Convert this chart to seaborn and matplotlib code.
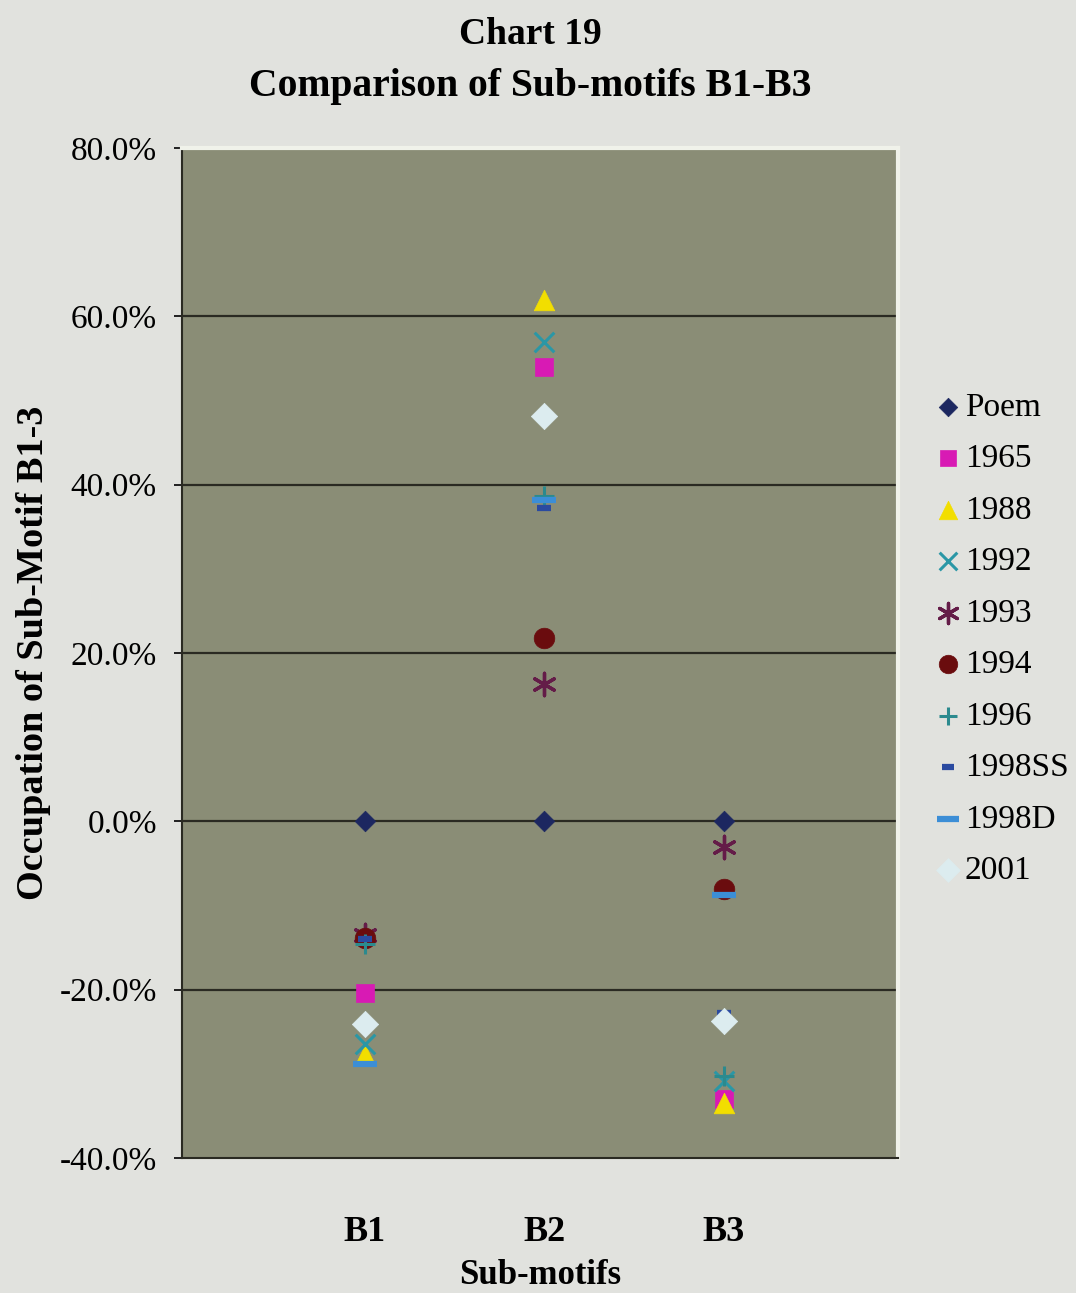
import matplotlib
matplotlib.use("Agg")
import matplotlib.pyplot as plt
import seaborn as sns
import pandas as pd
from matplotlib.ticker import FuncFormatter

# ---- data (percent) ----
categories = ["B1", "B2", "B3"]
series_names = ["Poem", "1965", "1988", "1992", "1993", "1994", "1996", "1998SS", "1998D", "2001"]
poem = [0.0, 0.0, 0.0]
s1965 = [-20.4, 54.0, -33.0]
s1988 = [-27.8, 62.0, -33.5]
s1992 = [-26.5, 57.0, -30.8]
s1993 = [-13.5, 16.3, -3.0]
s1994 = [-13.8, 21.8, -8.0]
s1996 = [-14.6, 38.6, -30.3]
s1998SS = [-14.0, 37.2, -22.8]
s1998D = [-28.8, 38.2, -8.7]
s2001 = [-24.1, 48.2, -23.7]
values = [poem, s1965, s1988, s1992, s1993, s1994, s1996, s1998SS, s1998D, s2001]

# ---- styles ----
styles = {
    "Poem":   dict(marker="D", color="#1c2760", s=110, linewidth=0.5),
    "1965":   dict(marker="s", color="#d81ab4", s=180, linewidth=0.5),
    "1988":   dict(marker="^", color="#f2de00", s=220, linewidth=0.5),
    "1992":   dict(marker="x", color="#2a97a6", s=200, linewidth=2.2),
    "1993":   dict(marker=(6, 2, 0), color="#641c48", s=260, linewidth=2.4),
    "1994":   dict(marker="o", color="#6a0c0e", s=220, linewidth=0.5),
    "1996":   dict(marker="+", color="#2b8a8e", s=220, linewidth=2.2),
    "1998SS": dict(marker="_", color="#2a4aa0", s=90, linewidth=4.5),
    "1998D":  dict(marker="_", color="#3c8ed6", s=300, linewidth=4.5),
    "2001":   dict(marker="D", color="#dcecef", s=180, linewidth=0.5),
}

fig = plt.figure(figsize=(10.76, 12.93), dpi=100)
fig.patch.set_facecolor("#e1e2de")
ax = fig.add_axes([0.169, 0.1044, 0.6656, 0.7811])
ax.set_facecolor("#8a8d76")

for name, vals in zip(series_names, values):
    st = styles[name]
    df = pd.DataFrame({"cat": categories, "val": vals})
    kw = dict(marker=st["marker"], color=st["color"], s=st["s"], linewidth=st["linewidth"], label=name, ax=ax, zorder=3)
    if st["marker"] not in ("x", "+", "_") and not isinstance(st["marker"], tuple):
        kw["edgecolor"] = st["color"]
    sns.scatterplot(data=df, x="cat", y="val", **kw)

ax.set_xlim(-1.02, 2.97)
ax.set_ylim(-40, 80)
ax.set_yticks([-40, -20, 0, 20, 40, 60, 80])
ax.yaxis.set_major_formatter(FuncFormatter(lambda v, p: f"{v:.1f}%"))
for yv in [-20, 0, 20, 40, 60]:
    ax.axhline(yv, color="#2a2a22", lw=1.6, zorder=1)

for sp in ["top", "right"]:
    ax.spines[sp].set_color("#f0f2ea")
    ax.spines[sp].set_linewidth(3)
ax.spines["left"].set_color("#2a2a22")
ax.spines["bottom"].set_color("#2a2a22")
ax.spines["left"].set_linewidth(1.5)
ax.spines["bottom"].set_linewidth(1.5)

serif = ["Liberation Serif", "DejaVu Serif"]
ax.tick_params(axis="y", length=6, width=1.2, labelsize=24, pad=12)
ax.tick_params(axis="x", length=0, labelsize=26, pad=42)
for lab in ax.get_yticklabels():
    lab.set_fontfamily(serif)
for lab in ax.get_xticklabels():
    lab.set_fontfamily(serif)
    lab.set_fontweight("bold")

ax.set_xlabel("Sub-motifs", fontsize=25, fontweight="bold", family=serif, labelpad=7)
ax.set_ylabel("Occupation of Sub-Motif B1-3", fontsize=27.5, fontweight="bold", family=serif, labelpad=6)

fig.text(0.493, 0.973, "Chart 19", ha="center", va="center", fontsize=27, fontweight="bold", family=serif)
fig.text(0.493, 0.933, "Comparison of Sub-motifs B1-B3", ha="center", va="center", fontsize=28.5, fontweight="bold", family=serif)

handles, labels = ax.get_legend_handles_labels()
if ax.get_legend():
    ax.get_legend().remove()
leg = fig.legend(handles, labels, loc="upper left", bbox_to_anchor=(0.855, 0.707), frameon=False,
                 prop={"family": serif, "size": 24}, handletextpad=0.05, labelspacing=0.63,
                 handlelength=0.9, markerscale=0.9, borderaxespad=0)

fig.savefig("out.png", dpi=100, facecolor=fig.get_facecolor())
